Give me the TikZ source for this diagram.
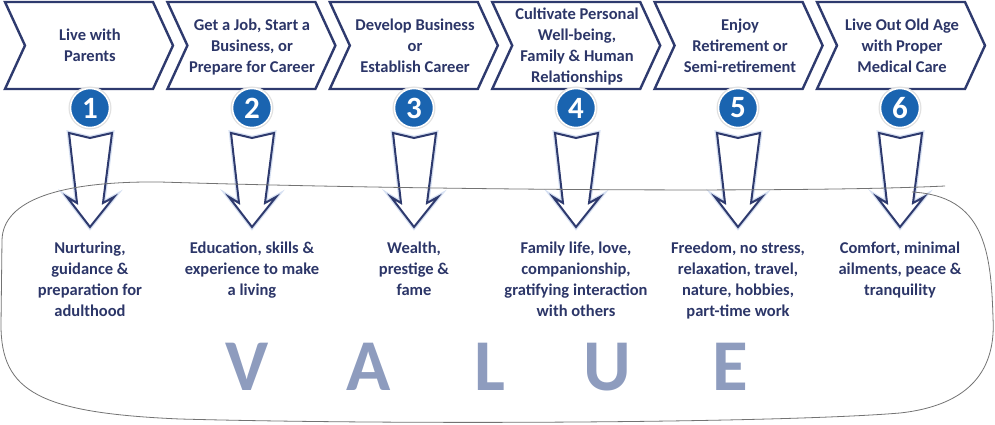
\documentclass[tikz,border=0pt]{standalone}
\usepackage{fontspec}
\setmainfont{Carlito}
\definecolor{navy}{RGB}{46,58,110}
\definecolor{txt}{RGB}{44,54,104}
\definecolor{numblue}{RGB}{26,100,176}
\definecolor{valc}{RGB}{142,156,190}
\definecolor{outl}{RGB}{115,115,115}
\definecolor{glow}{RGB}{214,224,242}
\newcommand\sx{\rule[-4.5pt]{0pt}{17.5pt}}
\begin{document}
\begin{tikzpicture}[x=1pt,y=-1pt,
  chev/.style={draw=navy, line width=2.4pt, fill=white, line join=miter},
  blockarrow/.style={draw=navy, line width=2pt, fill=white, line join=miter,
    preaction={draw=glow, line width=4.5pt}},
  numc/.style={circle, fill=numblue, draw=white, line width=1.5pt, minimum size=39pt, inner sep=0pt, text=white,
    font=\bfseries\fontsize{31}{31}\selectfont, preaction={draw=black!12, line width=4pt}},
  head/.style={align=center, text=txt, font=\bfseries\fontsize{16.5}{21}\selectfont, inner sep=0pt},
  desc/.style={head, anchor=north},
  big/.style={text=valc, font=\bfseries\fontsize{73}{73}\selectfont, anchor=base, inner sep=0pt},
  outline/.style={draw=outl, line width=0.8pt}]
\useasboundingbox (0,0) rectangle (995,425);

% chevrons
\foreach \i in {0,...,5} {
  \pgfmathsetmacro\xl{5+162.4*\i}
  \draw[chev] (\xl,2) -- ++(148,0) -- ++(20,43.5) -- ++(-20,43.5) -- ++(-148,0) -- ++(20,-43.5) -- cycle;
}

% chevron texts
\node[head] (h1) at (90,47)  {\sx Live with\\\sx Parents};
\node[head] (h2) at (252,47) {\sx Get a Job, Start a\\\sx Business, or\\\sx Prepare for Career};
\node[head] (h3) at (415,47) {\sx Develop Business\\\sx or\\\sx Establish Career};
\node[head] (h4) at (577,47) {\sx Cultivate Personal\\\sx Well-being,\\\sx Family \& Human\\\sx Relationships};
\node[head] (h5) at (740,47) {\sx Enjoy\\\sx Retirement or\\\sx Semi-retirement};
\node[head] (h6) at (902,47) {\sx Live Out Old Age\\\sx with Proper\\\sx Medical Care};

% number circles
\node[numc] (n1) at (90,108)  {1};
\node[numc] (n2) at (252,108) {2};
\node[numc] (n3) at (414,108) {3};
\node[numc] (n4) at (576,108) {4};
\node[numc] (n5) at (738,108) {5};
\node[numc] (n6) at (900,108) {6};

% block arrows
\foreach \i in {1,...,6} {
  \begin{scope}[shift={(n\i.center)}]
    \draw[blockarrow] (-21,25) -- (0,30) -- (22,25) -- (13,95) -- (24,89) -- (0,119) -- (-23,89) -- (-13,95) -- cycle;
  \end{scope}
}

% outline
\draw[outline] (945,186) .. controls (800,193) and (420,190) .. (160,182)
  .. controls (60,181) and (3,200) .. (2,240)
  -- (1,325)
  .. controls (1,392) and (40,413) .. (180,419)
  .. controls (400,425) and (780,423) .. (900,413)
  .. controls (972,405) and (996,368) .. (993,318)
  .. controls (991,250) and (984,196) .. (912,192);

% descriptions
\node[desc] (d1) at (90,240)  {\sx Nurturing,\\guidance \&\\preparation for\\adulthood};
\node[desc] (d2) at (252,240) {\sx Education, skills \&\\experience to make\\a living};
\node[desc] (d3) at (414,240) {\sx Wealth,\\prestige \&\\fame};
\node[desc] (d4) at (576,240) {\sx Family life, love,\\companionship,\\gratifying interaction\\with others};
\node[desc] (d5) at (738,240) {\sx Freedom, no stress,\\relaxation, travel,\\nature, hobbies,\\part-time work};
\node[desc] (d6) at (900,240) {\sx Comfort, minimal\\ailments, peace \&\\tranquility};

% VALUE
\node[big] (v1) at (247,390) {V};
\node[big] (v2) at (369,390) {A};
\node[big] (v3) at (490,390) {L};
\node[big] (v4) at (607,390) {U};
\node[big] (v5) at (730,390) {E};
\end{tikzpicture}
\end{document}
